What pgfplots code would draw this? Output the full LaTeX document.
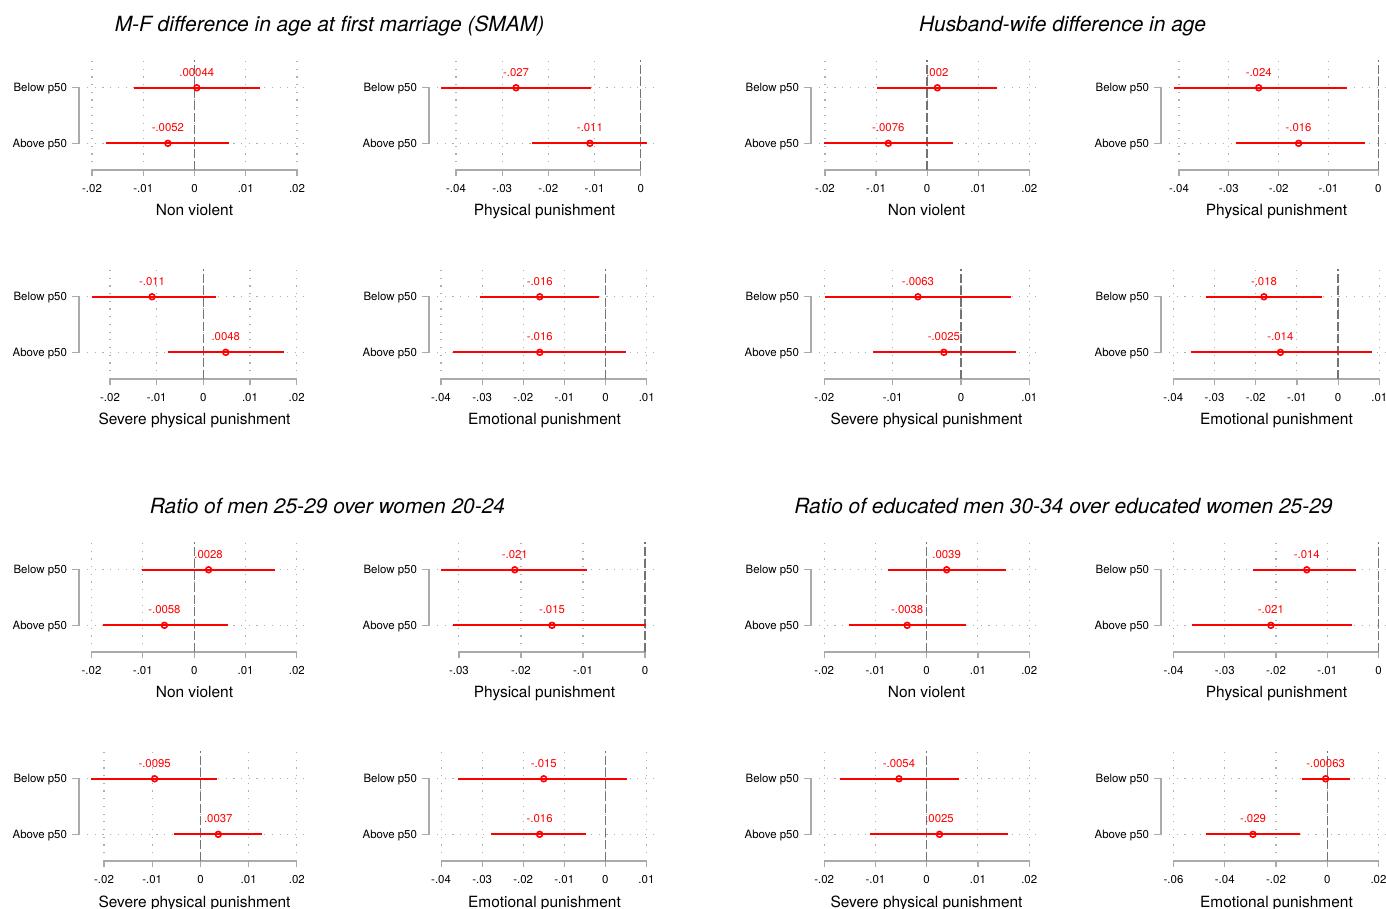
\documentclass[border=0pt]{standalone}
\usepackage{fontspec}
\setmainfont{TeX Gyre Heros}
\usepackage{pgfplots}
\pgfplotsset{compat=1.18}
\definecolor{axgray}{RGB}{170,170,170}
\definecolor{zgray}{RGB}{115,115,115}
\definecolor{ggray}{RGB}{175,175,175}
\definecolor{cired}{RGB}{255,0,0}

\pgfplotsset{
  pbase/.style={
    scale only axis, width=220bp, height=110bp,
    ymin=0.52, ymax=2.5, clip=false,
    axis x line*=bottom, axis y line*=left,
    axis line style={draw=none},
    xtick align=outside, major tick length=6bp,
    x tick style={axgray, line width=1.2bp},
    ytick={1,2}, yticklabels={Above p50,Below p50},
    y tick style={draw=none},
    xmajorgrids, ymajorgrids,
    grid style={ggray, line width=1.1bp, dash pattern=on 1.2bp off 6.5bp},
    scaled x ticks=false,
    tick label style={font=\fontsize{11.5}{13}\selectfont, text=black},
    xticklabel style={anchor=center, yshift=-13bp},
    yticklabel style={anchor=base east, xshift=-16.5bp, yshift=-4.2bp},
    every axis x label/.style={at={(axis description cs:0.4886,0)}, anchor=base, yshift=-46bp, font=\fontsize{15.5}{17}\selectfont},
  },
  panel/.style n args={4}{pbase, at={(#1bp,909bp-#2bp)}, anchor=south west, xmin=#3, xmax=#4},
  ci/.style={cired, line width=2bp, mark=none},
  est/.style={only marks, mark=o, mark size=2.9bp, mark options={cired, line width=1.6bp, solid},
    nodes near coords, point meta=explicit symbolic,
    every node near coord/.append style={anchor=center, yshift=15.7bp, text=cired, font=\fontsize{11.4}{13}\selectfont}},
  axl/.style={axgray, line width=1.3bp, mark=none},
  zl/.style={zgray, line width=1.4bp, dash pattern=on 9bp off 3bp, mark=none},
}

\newcommand\deco[2]{%
  \addplot[axl] coordinates {(#1,0.52) (#2,0.52)};
  \addplot[zl] coordinates {(0,0.52) (0,2.5)};
  \draw[axgray, line width=1.3bp] ([xshift=-15bp]rel axis cs:0,0.74747) -- ([xshift=-8bp]rel axis cs:0,0.74747) -- ([xshift=-8bp]rel axis cs:0,0.24242) -- ([xshift=-15bp]rel axis cs:0,0.24242);
}

\begin{document}
\begin{tikzpicture}
\useasboundingbox (0,0) rectangle (1386bp,909bp);

\node[font=\fontsize{21}{24}\selectfont\itshape] at (329.5bp,883bp) {M-F difference in age at first marriage (SMAM)};
\node[font=\fontsize{21}{24}\selectfont\itshape] at (1062.5bp,883bp) {Husband-wife difference in age};
\node[font=\fontsize{21}{24}\selectfont\itshape] at (327.5bp,403bp) {Ratio of men 25-29 over women 20-24};
\node[font=\fontsize{21}{24}\selectfont\itshape] at (1063.5bp,403bp) {Ratio of educated men 30-34 over educated women 25-29};

% ===== Row 1 =====
\begin{axis}[panel={87}{170}{-0.02098}{0.02195}, xtick={-0.02,-0.01,0,0.01,0.02}, xticklabels={-.02,-.01,0,.01,.02}, xlabel={Non violent}]
\deco{-0.02}{0.02}
\addplot[ci] coordinates {(-0.0119,2) (0.0127,2)};
\addplot[ci] coordinates {(-0.0173,1) (0.0068,1)};
\addplot[est] coordinates {(0.00044,2) [.00044] (-0.0052,1) [-.0052]};
\end{axis}

\begin{axis}[panel={437}{170}{-0.04412}{0.00353}, xtick={-0.04,-0.03,-0.02,-0.01,0}, xticklabels={-.04,-.03,-.02,-.01,0}, xlabel={Physical punishment}]
\deco{-0.04}{0}
\addplot[ci] coordinates {(-0.0433,2) (-0.0108,2)};
\addplot[ci] coordinates {(-0.0236,1) (0.0013,1)};
\addplot[est] coordinates {(-0.027,2) [-.027] (-0.011,1) [-.011]};
\end{axis}

\begin{axis}[panel={819}{170}{-0.02117}{0.0219}, xtick={-0.02,-0.01,0,0.01,0.02}, xticklabels={-.02,-.01,0,.01,.02}, xlabel={Non violent}]
\deco{-0.02}{0.02}
\addplot[ci] coordinates {(-0.0098,2) (0.0137,2)};
\addplot[ci] coordinates {(-0.0202,1) (0.0050,1)};
\addplot[est] coordinates {(0.002,2) [.002] (-0.0076,1) [-.0076]};
\end{axis}

\begin{axis}[panel={1169}{170}{-0.04201}{0.00215}, xtick={-0.04,-0.03,-0.02,-0.01,0}, xticklabels={-.04,-.03,-.02,-.01,0}, xlabel={Physical punishment}]
\deco{-0.04}{0}
\addplot[ci] coordinates {(-0.0410,2) (-0.0063,2)};
\addplot[ci] coordinates {(-0.0286,1) (-0.0027,1)};
\addplot[est] coordinates {(-0.024,2) [-.024] (-0.016,1) [-.016]};
\end{axis}

% ===== Row 2 =====
\begin{axis}[panel={87}{379}{-0.02493}{0.02221}, xtick={-0.02,-0.01,0,0.01,0.02}, xticklabels={-.02,-.01,0,.01,.02}, xlabel={Severe physical punishment}]
\deco{-0.02}{0.02}
\addplot[ci] coordinates {(-0.0239,2) (0.0027,2)};
\addplot[ci] coordinates {(-0.0076,1) (0.0173,1)};
\addplot[est] coordinates {(-0.011,2) [-.011] (0.0048,1) [.0048]};
\end{axis}

\begin{axis}[panel={437}{379}{-0.04097}{0.0125}, xtick={-0.04,-0.03,-0.02,-0.01,0,0.01}, xticklabels={-.04,-.03,-.02,-.01,0,.01}, xlabel={Emotional punishment}]
\deco{-0.04}{0.01}
\addplot[ci] coordinates {(-0.0306,2) (-0.0016,2)};
\addplot[ci] coordinates {(-0.0371,1) (0.0049,1)};
\addplot[est] coordinates {(-0.016,2) [-.016] (-0.016,1) [-.016]};
\end{axis}

\begin{axis}[panel={819}{379}{-0.02078}{0.01142}, xtick={-0.02,-0.01,0,0.01}, xticklabels={-.02,-.01,0,.01}, xlabel={Severe physical punishment}]
\deco{-0.02}{0.01}
\addplot[ci] coordinates {(-0.0199,2) (0.0073,2)};
\addplot[ci] coordinates {(-0.0129,1) (0.0081,1)};
\addplot[est] coordinates {(-0.0063,2) [-.0063] (-0.0025,1) [-.0025]};
\end{axis}

\begin{axis}[panel={1169}{379}{-0.04104}{0.01235}, xtick={-0.04,-0.03,-0.02,-0.01,0,0.01}, xticklabels={-.04,-.03,-.02,-.01,0,.01}, xlabel={Emotional punishment}]
\deco{-0.04}{0.01}
\addplot[ci] coordinates {(-0.0321,2) (-0.0040,2)};
\addplot[ci] coordinates {(-0.0356,1) (0.0083,1)};
\addplot[est] coordinates {(-0.018,2) [-.018] (-0.014,1) [-.014]};
\end{axis}

% ===== Row 3 =====
\begin{axis}[panel={87}{652}{-0.02088}{0.02197}, xtick={-0.02,-0.01,0,0.01,0.02}, xticklabels={-.02,-.01,0,.01,.02}, xlabel={Non violent}]
\deco{-0.02}{0.02}
\addplot[ci] coordinates {(-0.0102,2) (0.0158,2)};
\addplot[ci] coordinates {(-0.0178,1) (0.0065,1)};
\addplot[est] coordinates {(0.0028,2) [.0028] (-0.0058,1) [-.0058]};
\end{axis}

\begin{axis}[panel={437}{652}{-0.03353}{0.00192}, xtick={-0.03,-0.02,-0.01,0}, xticklabels={-.03,-.02,-.01,0}, xlabel={Physical punishment}]
\deco{-0.03}{0}
\addplot[ci] coordinates {(-0.0329,2) (-0.0094,2)};
\addplot[ci] coordinates {(-0.0309,1) (0.0002,1)};
\addplot[est] coordinates {(-0.021,2) [-.021] (-0.015,1) [-.015]};
\end{axis}

\begin{axis}[panel={819}{652}{-0.021}{0.02191}, xtick={-0.02,-0.01,0,0.01,0.02}, xticklabels={-.02,-.01,0,.01,.02}, xlabel={Non violent}]
\deco{-0.02}{0.02}
\addplot[ci] coordinates {(-0.0075,2) (0.0155,2)};
\addplot[ci] coordinates {(-0.0151,1) (0.0076,1)};
\addplot[est] coordinates {(0.0039,2) [.0039] (-0.0038,1) [-.0038]};
\end{axis}

\begin{axis}[panel={1169}{652}{-0.04088}{0.00205}, xtick={-0.04,-0.03,-0.02,-0.01,0}, xticklabels={-.04,-.03,-.02,-.01,0}, xlabel={Physical punishment}]
\deco{-0.04}{0}
\addplot[ci] coordinates {(-0.0245,2) (-0.0043,2)};
\addplot[ci] coordinates {(-0.0363,1) (-0.0051,1)};
\addplot[est] coordinates {(-0.014,2) [-.014] (-0.021,1) [-.021]};
\end{axis}

% ===== Row 4 =====
\begin{axis}[panel={87}{861}{-0.02353}{0.0221}, xtick={-0.02,-0.01,0,0.01,0.02}, xticklabels={-.02,-.01,0,.01,.02}, xlabel={Severe physical punishment}]
\deco{-0.02}{0.02}
\addplot[ci] coordinates {(-0.0226,2) (0.0035,2)};
\addplot[ci] coordinates {(-0.0055,1) (0.0128,1)};
\addplot[est] coordinates {(-0.0095,2) [-.0095] (0.0037,1) [.0037]};
\end{axis}

\begin{axis}[panel={437}{861}{-0.041}{0.01258}, xtick={-0.04,-0.03,-0.02,-0.01,0,0.01}, xticklabels={-.04,-.03,-.02,-.01,0,.01}, xlabel={Emotional punishment}]
\deco{-0.04}{0.01}
\addplot[ci] coordinates {(-0.0358,2) (0.0053,2)};
\addplot[ci] coordinates {(-0.0278,1) (-0.0048,1)};
\addplot[est] coordinates {(-0.015,2) [-.015] (-0.016,1) [-.016]};
\end{axis}

\begin{axis}[panel={819}{861}{-0.021}{0.02191}, xtick={-0.02,-0.01,0,0.01,0.02}, xticklabels={-.02,-.01,0,.01,.02}, xlabel={Severe physical punishment}]
\deco{-0.02}{0.02}
\addplot[ci] coordinates {(-0.0170,2) (0.0064,2)};
\addplot[ci] coordinates {(-0.0110,1) (0.0159,1)};
\addplot[est] coordinates {(-0.0054,2) [-.0054] (0.0025,1) [.0025]};
\end{axis}

\begin{axis}[panel={1169}{861}{-0.06176}{0.0241}, xtick={-0.06,-0.04,-0.02,0,0.02}, xticklabels={-.06,-.04,-.02,0,.02}, xlabel={Emotional punishment}]
\deco{-0.06}{0.02}
\addplot[ci] coordinates {(-0.0098,2) (0.0088,2)};
\addplot[ci] coordinates {(-0.0475,1) (-0.0108,1)};
\addplot[est] coordinates {(-0.00063,2) [-.00063] (-0.029,1) [-.029]};
\end{axis}

\end{tikzpicture}
\end{document}
